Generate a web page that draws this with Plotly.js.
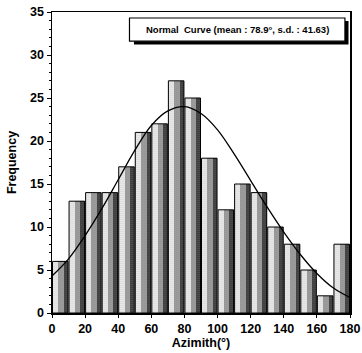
<!DOCTYPE html>
<html><head><meta charset="utf-8">
<script src="https://cdn.plot.ly/plotly-3.0.1.min.js"></script>
<style>body{margin:0;padding:0;background:#fff}#c{width:362px;height:353px}</style>
</head><body><div id="c"></div>
<script>
// Histogram bins (azimuth, degrees) and frequencies
const binCenters = [5,15,25,35,45,55,65,75,85,95,105,115,125,135,145,155,165,175];
const frequency  = [6,13,14,14,17,21,22,27,25,18,12,15,14,10,8,5,2,8];
// Normal curve
const curveX = [0,10,20,30,40,50,60,70,80,90,100,110,120,130,140,150,160,170,180];
const curveY = [4.3,6.3,9.0,12.1,15.5,18.9,21.8,23.5,24.0,23.2,21.3,18.5,15.4,12.3,9.4,6.8,4.6,2.9,1.8];
const xTicks = [0,20,40,60,80,100,120,140,160,180];
const yTicks = [0,5,10,15,20,25,30,35];
const legendText = "Normal  Curve (mean : 78.9°, s.d. : 41.63)";

const fam = "Liberation Sans Narrow, Liberation Sans, Arial, sans-serif";
const fnt = {family:fam, size:12.5, color:"#000", weight:"bold"};

function strip(width, offset, color, fg, bg, sol) {
  return {type:"bar", x:binCenters, y:frequency, width:width, offset:offset, showlegend:false, hoverinfo:"skip",
    marker:{color:color, pattern:{shape:".", fgcolor:fg, bgcolor:bg, size:2, solidity:sol}, line:{width:0}}};
}
const light  = strip(9.4, -4.7, "#e0e0e0", "#999", "#fafafa", 0.3);
const medium = strip(3.4, -1.2, "#a0a0a0", "#444", "#cfcfcf", 0.4);
const dark   = strip(2.6, 2.1, "#555", "#111", "#777", 0.55);
const outline = {
  type:"bar", x:binCenters, y:frequency, width:9.4, offset:-4.7, showlegend:false, hoverinfo:"skip",
  marker:{color:"rgba(0,0,0,0)", line:{color:"#000", width:1}}
};
const curve = {
  type:"scatter", mode:"lines", x:curveX, y:curveY, showlegend:false, hoverinfo:"skip",
  line:{color:"#000", width:1.3, shape:"spline"}
};

const layout = {
  width:362, height:353,
  margin:{l:52, r:12, t:12, b:40},
  paper_bgcolor:"#fff", plot_bgcolor:"#fff",
  barmode:"overlay", bargap:0,
  font:fnt,
  xaxis:{range:[0,180], tickvals:xTicks, ticktext:xTicks.map(String), ticks:"outside", ticklen:3,
         tickcolor:"#000", showline:true, linecolor:"#000", linewidth:1.5, mirror:true,
         showgrid:false, zeroline:false, tickfont:fnt,
         title:{text:"Azimith(°)", font:{family:"Liberation Sans, Arial, sans-serif", size:12.5, color:"#000", weight:"bold"}, standoff:2}},
  yaxis:{range:[0,35], tickvals:yTicks, ticktext:yTicks.map(String), ticks:"outside", ticklen:4,
         tickcolor:"#000", showline:true, linecolor:"#000", linewidth:1.5, mirror:true,
         showgrid:false, zeroline:false, tickfont:fnt,
         minor:{dtick:1, ticks:"outside", ticklen:2, tickcolor:"#000"},
         title:{text:"Frequency", font:{family:"Liberation Sans, Arial, sans-serif", size:12.5, color:"#000", weight:"bold"}, standoff:10}},
  shapes:[
    {type:"rect", xref:"paper", yref:"paper", x0:0.275, x1:0.995, y0:0.892, y1:0.97, fillcolor:"#000", line:{width:0}},
    {type:"rect", xref:"paper", yref:"paper", x0:0.26, x1:0.983, y0:0.903, y1:0.98, fillcolor:"#fff", line:{color:"#000", width:1.2}}
  ],
  annotations:[
    {xref:"paper", yref:"paper", x:0.6215, y:0.9415, text:legendText, showarrow:false,
     font:{family:"Liberation Sans, Arial, sans-serif", size:9.5, color:"#000", weight:"bold"}, xanchor:"center", yanchor:"middle"}
  ]
};

Plotly.newPlot("c", [light, medium, dark, outline, curve], layout, {staticPlot:true, displayModeBar:false});
</script></body></html>
